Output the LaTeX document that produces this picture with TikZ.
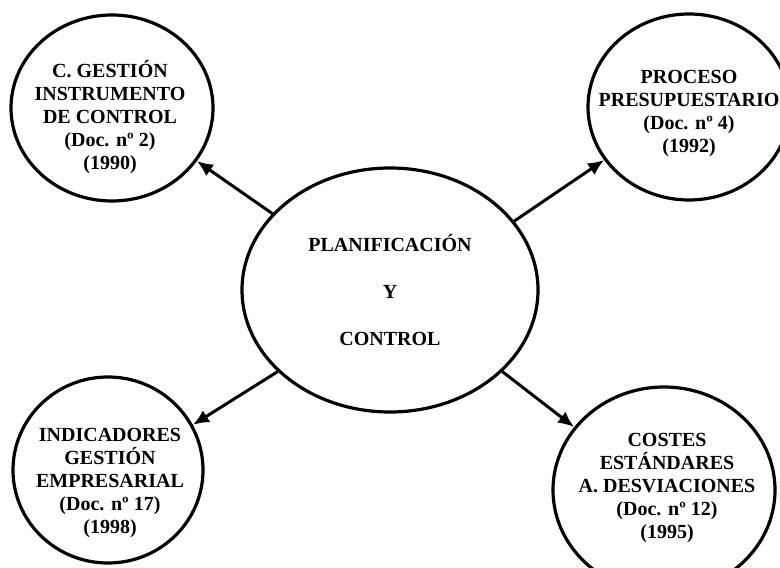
\documentclass[tikz,border=0pt]{standalone}
\usepackage{fontspec}
\setmainfont{Liberation Serif}
\usetikzlibrary{arrows.meta,shapes.geometric}

\begin{document}
\begin{tikzpicture}[x=0.5pt,y=0.5pt,font=\bfseries\fontsize{10}{11.5}\selectfont,
  >={Latex[length=8pt,width=7pt]},
  oval/.style={draw,ellipse,line width=1.6pt,inner sep=0pt},
  txt/.style={align=center},
  link/.style={->,line width=1.5pt}]
\useasboundingbox (0,0) rectangle (780,567);
\clip (0,0) rectangle (780,567);
% central topic
\node[oval,minimum width=148pt,minimum height=122pt,align=center,
      font=\bfseries\fontsize{10}{23.5}\selectfont] (plan) at (390,277)
  {PLANIFICACIÓN\\Y\\CONTROL};
% documents
\node[oval,minimum width=101pt,minimum height=93pt] (gestion) at (112,459) {};
\node[oval,minimum width=101pt,minimum height=93pt] (proceso) at (689,460) {};
\node[oval,minimum width=95pt,minimum height=93pt] (indic) at (108,97) {};
\node[oval,minimum width=111pt,minimum height=103pt] (costes) at (664,77) {};
\node[txt] (gestion-t) at (110,450) {C. GESTIÓN\\INSTRUMENTO\\DE CONTROL\\(Doc. nº 2)\\(1990)};
\node[txt] (proceso-t) at (689,453) {PROCESO\\PRESUPUESTARIO\\(Doc. nº 4)\\(1992)};
\node[txt] (indic-t) at (110,84) {INDICADORES\\GESTIÓN\\EMPRESARIAL\\(Doc. nº 17)\\(1998)};
\node[txt] (costes-t) at (667,79) {COSTES\\ESTÁNDARES\\A. DESVIACIONES\\(Doc. nº 12)\\(1995)};
% connectors
\draw[link] (plan.147) -- (gestion.-32);
\draw[link] (plan.29) -- (proceso.212);
\draw[link] (plan.216) -- (indic.28);
\draw[link] (plan.-36) -- (costes.145);
\end{tikzpicture}
\end{document}
